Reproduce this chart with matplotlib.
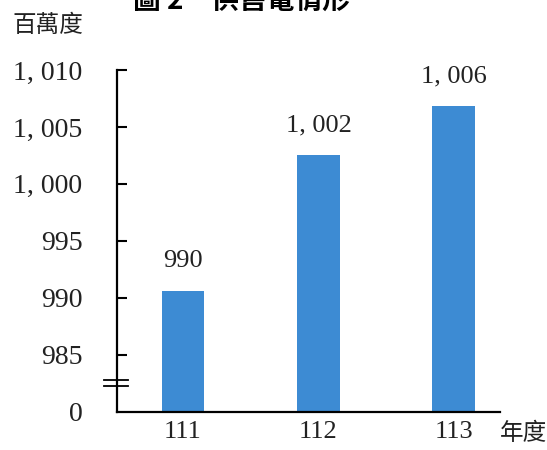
import matplotlib
matplotlib.use("Agg")
import matplotlib.pyplot as plt
import matplotlib.transforms as mtransforms

# ---- data ----
years = ["111", "112", "113"]
values = [990.6, 1002.5, 1006.8]          # bar heights
value_labels = ["990", "1, 002", "1, 006"]
ytick_values = [980, 985, 990, 995, 1000, 1005, 1010]
ytick_labels = ["0", "985", "990", "995", "1, 000", "1, 005", "1, 010"]
y_unit = "百萬度"
x_unit = "年度"
title = "圖 2　供售電情形"

SERIF = ["Liberation Serif", "DejaVu Serif"]
CJK = ["Noto Sans CJK TC", "DejaVu Sans"]
BAR_COLOR = "#3d8bd3"
base = ytick_values[0]

fig = plt.figure(figsize=(5.47, 4.5), dpi=100)
ax = fig.add_axes([117/547, 38.3/450, 383/547, 341.7/450])

x = list(range(len(years)))
ax.bar(x, [v - base for v in values], bottom=base, width=0.317,
       color=BAR_COLOR, zorder=2)

for xi, v, lab in zip(x, values, value_labels):
    ax.annotate(lab, (xi, v), xytext=(0, 21.5), textcoords="offset points",
                ha="center", va="center", fontsize=19, family=SERIF,
                color="#222222", annotation_clip=False)

ax.set_xlim(-0.487, 2.34)
ax.set_ylim(980, 1010)

ax.set_yticks(ytick_values)
ax.set_yticklabels(ytick_labels, family=SERIF, fontsize=20, color="#222222")
ax.set_xticks(x)
ax.set_xticklabels(years, family=SERIF, fontsize=19, color="#222222")

ax.tick_params(axis="y", direction="in", length=7, width=1.5, pad=25, color="black")
ax.tick_params(axis="x", length=0, pad=7)
ax.yaxis.get_major_ticks()[0].tick1line.set_visible(False)

for s in ["top", "right"]:
    ax.spines[s].set_visible(False)
for s in ["left", "bottom"]:
    ax.spines[s].set_linewidth(1.6)
    ax.spines[s].set_color("black")

# axis break marks
trans = mtransforms.blended_transform_factory(ax.transAxes, ax.transData)
for yb in (982.78, 982.28):
    ax.plot([-0.034, 0.0287], [yb, yb], color="black", lw=1.3,
            transform=trans, clip_on=False, zorder=5)

fig.text(12/547, 1 - 26/450, y_unit, family=CJK, fontsize=17,
         ha="left", va="center", color="#222222")
fig.text(500/547, 1 - 433/450, x_unit, family=CJK, fontsize=17,
         ha="left", va="center", color="#222222")
fig.text(133/547, 1 - 9/450, title, family=CJK, fontsize=20, weight="bold",
         ha="left", va="baseline", color="black")

fig.savefig("out.png", dpi=100)
